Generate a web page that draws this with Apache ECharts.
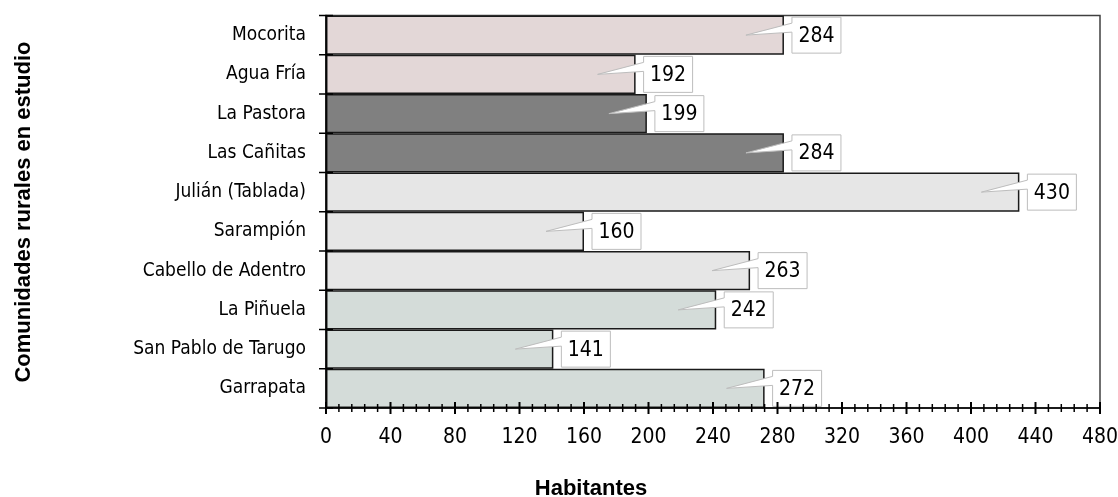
<!DOCTYPE html>
<html>
<head>
<meta charset="utf-8">
<script src="https://cdn.jsdelivr.net/npm/echarts@6/dist/echarts.min.js"></script>
<style>
  html, body { margin: 0; padding: 0; background: #fff; overflow: hidden; }
  #chart { width: 1118px; height: 497px; }
</style>
</head>
<body>
<div id="chart"></div>
<script>
// Población por comunidad rural
const comunidades = [
  'Mocorita', 'Agua Fría', 'La Pastora', 'Las Cañitas', 'Julián (Tablada)',
  'Sarampión', 'Cabello de Adentro', 'La Piñuela', 'San Pablo de Tarugo', 'Garrapata'
];
const habitantes = [284, 192, 199, 284, 430, 160, 263, 242, 141, 272];
// grupo de color de cada comunidad
const grupo = [0, 0, 1, 1, 2, 2, 2, 3, 3, 3];
const coloresGrupo = ['#e3d7d7', '#808080', '#e6e6e6', '#d4dcd9'];
const ejeX = { min: 0, max: 480, interval: 40, divisiones: 5 };

const NARROW = "'Liberation Sans Narrow', 'Arial Narrow', 'DejaVu Sans Condensed', sans-serif";
const SANS = "'Liberation Sans', Arial, sans-serif";

// valores de las marcas del eje X (principales cada 40, secundarias cada 8)
const pasoMenor = ejeX.interval / ejeX.divisiones;
const marcasX = [];
for (let v = ejeX.min; v <= ejeX.max; v += pasoMenor) marcasX.push(v);

const chart = echarts.init(document.getElementById('chart'), null, { renderer: 'canvas' });

// Etiqueta tipo globo con flecha hacia el extremo de la barra
function renderCallout(params, api) {
  const v = api.value(0);
  const idx = api.value(1);
  const p = api.coord([v, idx]);
  const w = 49, h = 36;
  const left = p[0] + 8;
  const top = p[1] - h / 2;
  const pts = [
    [left, top], [left + w, top], [left + w, top + h], [left, top + h],
    [left, top + 15], [p[0] - 38, p[1]], [left, top + 6]
  ];
  return {
    type: 'group',
    children: [
      {
        type: 'polygon',
        shape: { points: pts },
        style: { fill: '#ffffff', stroke: '#bdbdbd', lineWidth: 1 }
      },
      {
        type: 'text',
        x: left + w / 2,
        y: p[1] + 1,
        style: {
          text: String(v),
          font: '21px ' + NARROW,
          fill: '#000',
          align: 'center',
          verticalAlign: 'middle'
        }
      }
    ]
  };
}

// Marcas del eje X que cruzan la línea del eje
function renderMarcaX(params, api) {
  const v = api.value(0);
  const x = api.coord([v, 0])[0];
  const y = params.coordSys.y + params.coordSys.height;
  const mayor = Math.abs(v / ejeX.interval - Math.round(v / ejeX.interval)) < 1e-9;
  const half = mayor ? 6 : 4;
  return {
    type: 'line',
    shape: { x1: x, y1: y - half, x2: x, y2: y + half },
    style: { stroke: '#000', lineWidth: mayor ? 2 : 1.5 }
  };
}

// Marcas del eje Y en los límites entre categorías
function renderMarcaY(params, api) {
  const idx = api.value(1);
  const band = api.size([0, 1])[1];
  const c = api.coord([0, idx]);
  const x = params.coordSys.x;
  const lines = [c[1] - band / 2];
  if (idx === comunidades.length - 1) lines.push(c[1] + band / 2);
  return {
    type: 'group',
    children: lines.map(y => ({
      type: 'line',
      shape: { x1: x - 7, y1: y, x2: x + 7, y2: y },
      style: { stroke: '#000', lineWidth: 1.5 }
    }))
  };
}

const option = {
  animation: false,
  backgroundColor: '#fff',
  grid: {
    left: 326, right: 18, top: 15.5, bottom: 89,
    outerBoundsMode: 'none',
    show: true, borderColor: '#404040', borderWidth: 1.5, backgroundColor: 'transparent'
  },
  xAxis: {
    type: 'value', min: ejeX.min, max: ejeX.max, interval: ejeX.interval, position: 'bottom',
    axisLine: { show: true, lineStyle: { color: '#000', width: 1.5 } },
    axisTick: { show: false },
    splitLine: { show: false },
    axisLabel: { margin: 19, color: '#000', fontSize: 21, fontFamily: NARROW },
    z: 10
  },
  yAxis: {
    type: 'category', data: comunidades, inverse: true, position: 'left',
    axisLine: { show: true, lineStyle: { color: '#000', width: 1.5 } },
    axisTick: { show: false },
    axisLabel: { margin: 20, color: '#000', fontSize: 19, fontFamily: NARROW },
    z: 10
  },
  series: [
    {
      type: 'bar',
      barCategoryGap: '0%',
      data: habitantes.map((v, i) => ({
        value: v,
        itemStyle: { color: coloresGrupo[grupo[i]] }
      })),
      itemStyle: { borderColor: '#1a1a1a', borderWidth: 1.5 },
      z: 2
    },
    {
      type: 'custom',
      renderItem: renderCallout,
      encode: { x: 0, y: 1 },
      data: habitantes.map((v, i) => [v, i]),
      z: 5
    },
    {
      type: 'custom',
      clip: false,
      silent: true,
      renderItem: renderMarcaX,
      encode: { x: 0, y: 1 },
      data: marcasX.map(v => [v, 0]),
      z: 12
    },
    {
      type: 'custom',
      clip: false,
      silent: true,
      renderItem: renderMarcaY,
      encode: { x: 0, y: 1 },
      data: comunidades.map((c, i) => [0, i]),
      z: 12
    }
  ],
  graphic: [
    {
      type: 'text',
      x: 24, y: 212,
      rotation: Math.PI / 2,
      style: {
        text: 'Comunidades rurales en estudio',
        font: 'bold 22px ' + SANS,
        fill: '#000', align: 'center', verticalAlign: 'middle'
      }
    },
    {
      type: 'text',
      x: 591, y: 489,
      style: {
        text: 'Habitantes',
        font: 'bold 22px ' + SANS,
        fill: '#000', align: 'center', verticalAlign: 'middle'
      }
    }
  ]
};

chart.setOption(option);
</script>
</body>
</html>
